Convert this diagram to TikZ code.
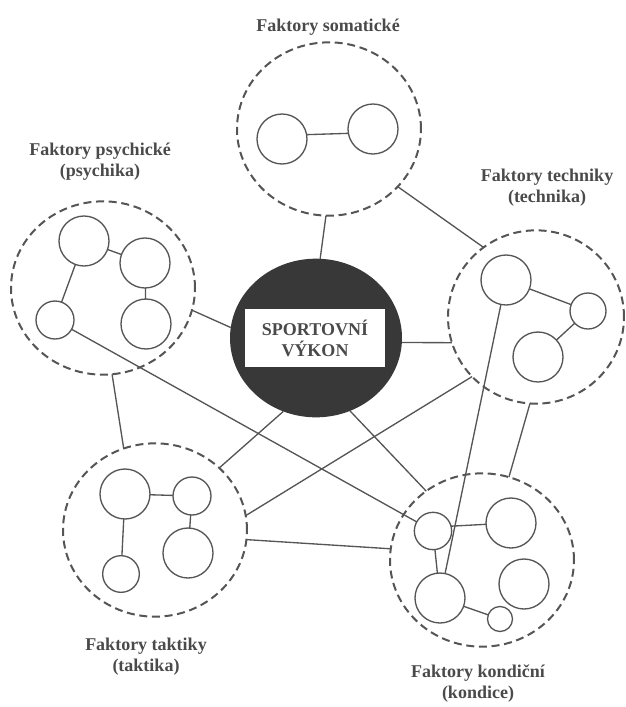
\documentclass[tikz,border=0pt]{standalone}
\usepackage{fontspec}
\setmainfont{Liberation Serif}
\usetikzlibrary{shapes.geometric}
\definecolor{inkgray}{HTML}{555555}
\definecolor{textgray}{HTML}{4A4A4A}
\definecolor{coregray}{HTML}{383838}

\begin{document}
\begin{tikzpicture}[x=0.75pt,y=-0.75pt,
  group/.style={ellipse,draw=inkgray,dash pattern=on 6pt off 3.5pt,line width=1.5pt,
    inner sep=0pt,outer sep=0pt,minimum width=138pt,minimum height=130pt},
  item/.style={circle,draw=inkgray,line width=1pt,inner sep=0pt,outer sep=0pt,minimum size=#1},
  item/.default=37.5pt,
  link/.style={draw=inkgray,line width=1pt},
  title/.style={text=textgray,align=center,font=\bfseries\fontsize{13.5}{15.75}\selectfont}]
  \useasboundingbox (0,0) rectangle (625,707);

  % Draw the core
  \node[ellipse,fill=coregray,inner sep=0pt,outer sep=0pt,minimum width=129pt,minimum height=119pt] (core) at (316,338) {};
  \node[fill=white,inner sep=0pt,minimum width=105pt,minimum height=44pt,title] (corebox) at (315,338) {SPORTOVN\'I\\V\'YKON};

  % Draw the groups
  \node[group] (sat) at (329,129) {};
  \node[group] (psy) at (103,288) {};
  \node[group,minimum width=132pt] (tech) at (536,317) {};
  \node[group] (tak) at (155,530) {};
  \node[group] (kon) at (482,560) {};

  % Titles of the groups
  \node[title] (satlabel) at (328,27) {Faktory somatické};
  \node[title] (psylabel) at (100,162) {Faktory psychické\\(psychika)};
  \node[title] (techlabel) at (547,188) {Faktory techniky\\(technika)};
  \node[title] (taklabel) at (146,657) {Faktory taktiky\\(taktika)};
  \node[title] (konlabel) at (478,684) {Faktory kondiční\\(kondice)};

  % Circles inside the groups
  \node[item] (sat1) at (282,139) {};
  \node[item] (sat2) at (373,129) {};
  \node[item] (psy1) at (84,241) {};
  \node[item] (psy2) at (145,263) {};
  \node[item=28.5pt] (psy3) at (55,320) {};
  \node[item] (psy4) at (146,324) {};
  \node[item] (tech1) at (506,280) {};
  \node[item=27pt] (tech2) at (588,311) {};
  \node[item] (tech3) at (538,357) {};
  \node[item] (tak1) at (125,494) {};
  \node[item=28.5pt] (tak2) at (192,496) {};
  \node[item=27.5pt] (tak3) at (121,574) {};
  \node[item] (tak4) at (188,553) {};
  \node[item=28pt] (kon1) at (433,531) {};
  \node[item] (kon2) at (511,523) {};
  \node[item] (kon3) at (440,598) {};
  \node[item] (kon4) at (524,584) {};
  \node[item=18.75pt] (kon5) at (500,619) {};

  % Links inside the groups
  \draw[link] (sat1.10) -- (sat2.190);
  \draw[link] (psy1) -- (psy2);
  \draw[link] (psy1) -- (psy3);
  \draw[link] (psy2) -- (psy4);
  \draw[link] (tech1) -- (tech2);
  \draw[link] (tech2) -- (tech3);
  \draw[link] (tak1) -- (tak2);
  \draw[link] (tak1) -- (tak3);
  \draw[link] (tak2) -- (tak4);
  \draw[link] (kon1.15) -- (kon2.183);
  \draw[link] (kon1) -- (kon3);
  \draw[link] (kon3) -- (kon5);

  % Links to the core
  \draw[link] (sat.-92) -- (core.87);
  \draw[link] (psy.-14) -- (core.173);
  \draw[link] (tech.197) -- (core.-3);
  \draw[link] (tak.44) -- (core.-114);
  \draw[link] (kon.129) -- (core.-65);

  % Links between the groups
  \draw[link] (sat.-40) -- (tech.127);
  \draw[link] (psy.-84) -- (tak.111);
  \draw[link] (tak.9) -- (tech.223);
  \draw[link] (tak.-6) -- (kon.173);
  \draw[link] (tech.266) -- (kon.72);
  \draw[link] (psy3) -- (kon1);
  \draw[link] (tech1) -- (kon3);
\end{tikzpicture}
\end{document}
